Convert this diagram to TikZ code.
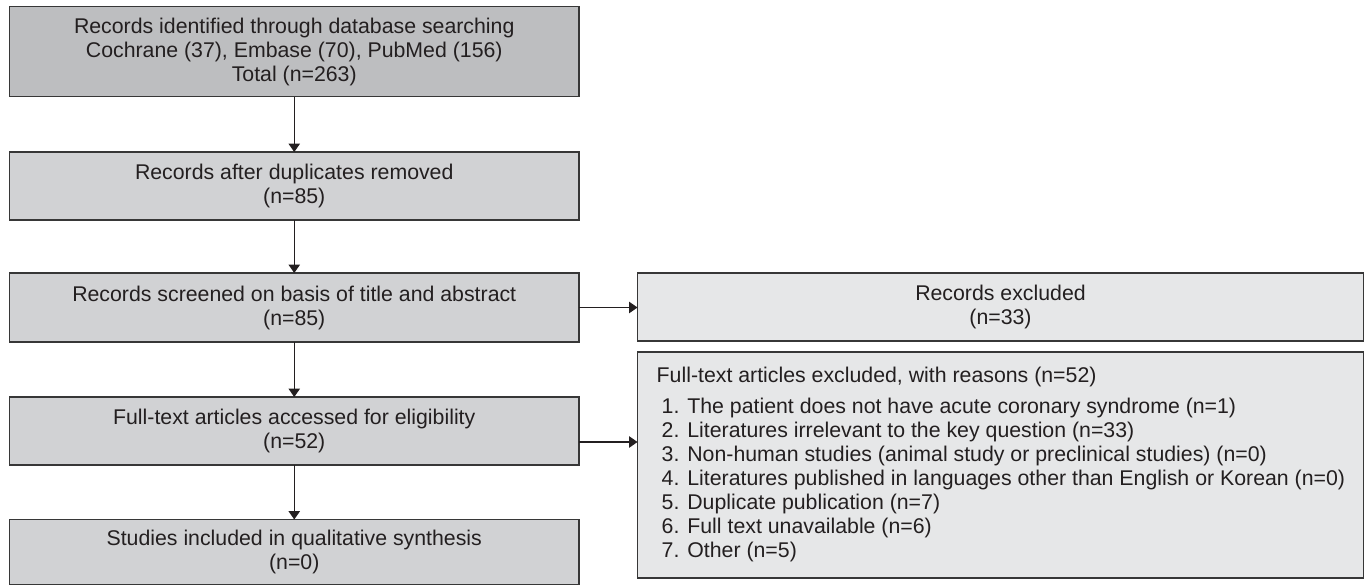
\documentclass[tikz,border=0pt]{standalone}
\usepackage{fontspec}
\setmainfont{Liberation Sans}
\usetikzlibrary{arrows.meta}
\definecolor{boxdark}{RGB}{189,190,192}
\definecolor{boxmid}{RGB}{209,210,212}
\definecolor{boxlight}{RGB}{230,231,232}
\definecolor{edgecol}{RGB}{55,55,55}
\definecolor{textcol}{RGB}{35,31,32}
\tikzset{
  flowbox/.style={draw=edgecol, line width=1.6pt, fill=boxmid, rectangle, anchor=north west,
    inner sep=0pt, outer sep=0pt, minimum width=569.5pt, align=center,
    font=\fontsize{21.3}{24}\selectfont, text=textcol},
  sidebox/.style={draw=edgecol, line width=1.6pt, fill=boxlight, rectangle, anchor=north west,
    inner sep=0pt, outer sep=0pt, minimum width=726pt, align=center,
    font=\fontsize{21.3}{24}\selectfont, text=textcol},
  arr/.style={draw=textcol, line width=1.3pt, -{Triangle[width=11.5pt,length=8.5pt]}}
}
\begin{document}
\begin{tikzpicture}[x=1pt,y=1pt]
\useasboundingbox (0,0) rectangle (1368,-586);
% left column
\node[flowbox, fill=boxdark, minimum height=90pt] (b1) at (9.5,-6.5)
  {Records identified through database searching\\Cochrane (37), Embase (70), PubMed (156)\\Total (n=263)};
\node[flowbox, minimum height=68pt] (b2) at (9.5,-152)
  {Records after duplicates removed\\(n=85)};
\node[flowbox, minimum height=69pt] (b3) at (9.5,-273)
  {Records screened on basis of title and abstract\\(n=85)};
\node[flowbox, minimum height=68pt] (b4) at (9.5,-397)
  {Full-text articles accessed for eligibility\\(n=52)};
\node[flowbox, minimum height=65pt] (b5) at (9.5,-519.5)
  {Studies included in qualitative synthesis\\(n=0)};
% right column
\node[sidebox, minimum height=68pt] (e1) at (637.5,-273)
  {Records excluded\\(n=33)};
\node[sidebox, minimum height=226pt] (e2) at (637.5,-352) {};
\node[anchor=west, align=left, inner sep=0pt, text=textcol,
  font=\fontsize{21.3}{24}\selectfont] (e2t) at ([xshift=19pt,yshift=1pt]e2.west)
  {Full-text articles excluded, with reasons (n=52)\\[7pt]
   \hspace*{5pt}1. The patient does not have acute coronary syndrome (n=1)\\
   \hspace*{5pt}2. Literatures irrelevant to the key question (n=33)\\
   \hspace*{5pt}3. Non-human studies (animal study or preclinical studies) (n=0)\\
   \hspace*{5pt}4. Literatures published in languages other than English or Korean (n=0)\\
   \hspace*{5pt}5. Duplicate publication (n=7)\\
   \hspace*{5pt}6. Full text unavailable (n=6)\\
   \hspace*{5pt}7. Other (n=5)};
% connectors
\draw[arr] (b1.south) -- (b2.north);
\draw[arr] (b2.south) -- (b3.north);
\draw[arr] (b3.south) -- (b4.north);
\draw[arr] (b4.south) -- (b5.north);
\draw[arr] (b3.east) -- (b3.east -| e1.west);
\coordinate (a2) at ([yshift=-11pt]b4.east);
\draw[arr] (a2) -- (a2 -| e2.west);
\end{tikzpicture}
\end{document}
